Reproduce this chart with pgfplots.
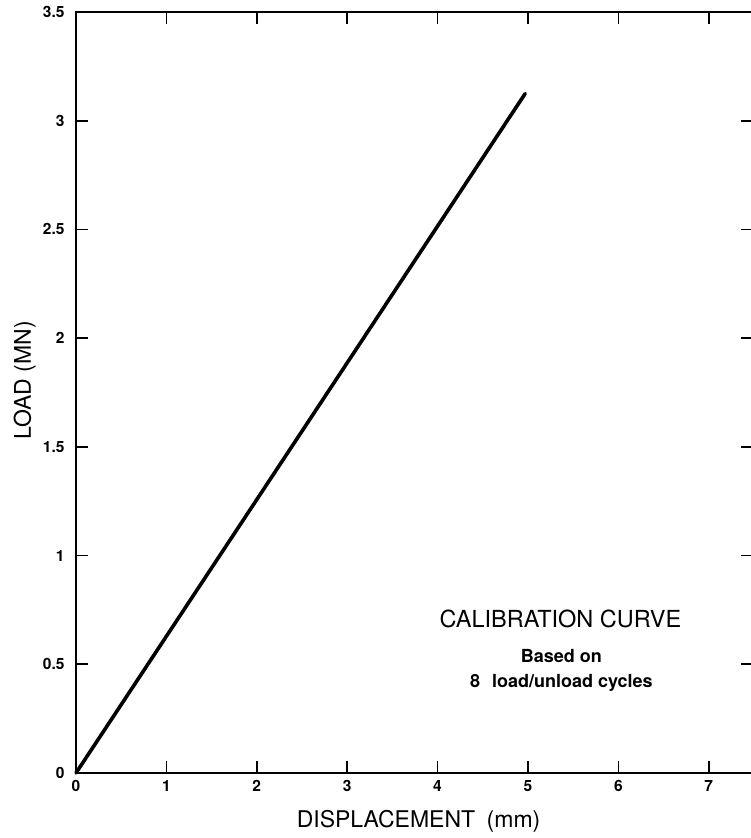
\documentclass[border=0pt]{standalone}
\usepackage{fontspec}
\setmainfont{TeX Gyre Heros}
\usepackage{pgfplots}
\pgfplotsset{compat=1.18}
\begin{document}
\begin{tikzpicture}
\begin{axis}[
  scale only axis,
  width=677pt, height=761pt,
  xmin=0, xmax=7.49,
  ymin=0, ymax=3.5,
  xtick={0,1,2,3,4,5,6,7},
  ytick={0,0.5,1,1.5,2,2.5,3,3.5},
  yticklabels={0,0.5,1,1.5,2,2.5,3,3.5},
  tick align=inside,
  major tick length=12pt,
  axis line style={line width=1.8pt},
  every tick/.style={black, line width=1.6pt},
  /pgf/number format/assume math mode=true,
  tick label style={font=\fontsize{15.5}{17}\selectfont\bfseries},
  xticklabel style={yshift=-4pt},
  yticklabel style={xshift=-8pt},
  xlabel={DISPLACEMENT\enspace(mm)},
  ylabel={LOAD (MN)},
  label style={font=\fontsize{23}{26}\selectfont},
  xlabel style={at={(axis description cs:0.506,-0.071)}, anchor=base},
  ylabel style={at={(axis description cs:-0.0666,0.516)}, anchor=base},
  clip=false,
]
  % fitted calibration line
  \addplot[black, line width=3.6pt, line cap=round] coordinates {(0,0) (4.97,3.125)};

  \node[anchor=base, font=\fontsize{23.5}{26}\selectfont] at (axis cs:5.36,0.667) {CALIBRATION CURVE};
  \node[anchor=base, font=\fontsize{18}{20}\selectfont\bfseries] at (axis cs:5.37,0.506) {Based on};
  \node[anchor=base, font=\fontsize{18}{20}\selectfont\bfseries] at (axis cs:5.37,0.391) {8\hspace{12pt}load/unload cycles};
\end{axis}
\pgfresetboundingbox
\path[use as bounding box] ([xshift=-76pt,yshift=-65pt]current axis.south west)
  rectangle ([xshift=-2pt,yshift=12pt]current axis.north east);
\end{tikzpicture}
\end{document}
